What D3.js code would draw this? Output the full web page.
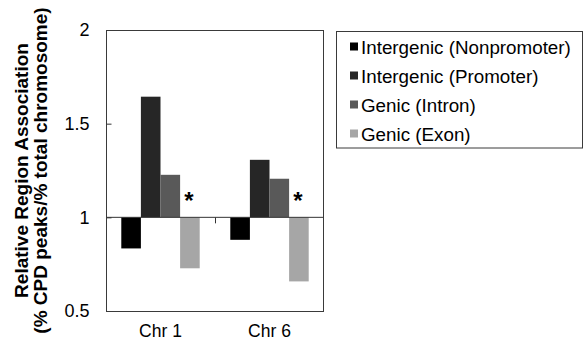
<!DOCTYPE html>
<html>
<head>
<meta charset="utf-8">
<script src="https://cdn.jsdelivr.net/npm/d3@7/dist/d3.min.js"></script>
<style>
  html, body { margin: 0; padding: 0; background: #fff; }
  svg { display: block; font-family: "Liberation Sans", Arial, sans-serif; }
</style>
</head>
<body>
<svg id="chart" width="583" height="343"></svg>
<script>
// ---- data ----
const categories = ["Chr 1", "Chr 6"];
const seriesNames = ["Intergenic (Nonpromoter)", "Intergenic (Promoter)", "Genic (Intron)", "Genic (Exon)"];
const nonpromoter = [0.834, 0.880];
const promoter = [1.644, 1.307];
const intron = [1.227, 1.206];
const exon = [0.728, 0.658];
const significant = [true, true]; // asterisk on exon bar
const yTicks = [0.5, 1, 1.5, 2];
const seriesColors = ["#000000", "#262626", "#595959", "#a6a6a6"];

const seriesValues = [nonpromoter, promoter, intron, exon];

// ---- layout ----
const svg = d3.select("#chart");
const plot = { left: 106, right: 324, top: 30, bottom: 311 };

const y = d3.scaleLinear().domain([0.5, 2]).range([plot.bottom, plot.top]);
const x0 = d3.scaleBand().domain(categories).range([plot.left, plot.right]).paddingInner(0).paddingOuter(0);
const x1 = d3.scaleBand().domain(seriesNames).range([0, x0.bandwidth()]).paddingInner(0).paddingOuter(0.78);

// bars
const barData = [];
categories.forEach((c, ci) => {
  seriesNames.forEach((s, si) => {
    barData.push({ cat: c, series: s, value: seriesValues[si][ci], color: seriesColors[si] });
  });
});

svg.append("g").selectAll("rect")
  .data(barData)
  .join("rect")
  .attr("x", d => x0(d.cat) + x1(d.series))
  .attr("width", x1.bandwidth())
  .attr("y", d => Math.min(y(d.value), y(1)))
  .attr("height", d => Math.abs(y(d.value) - y(1)))
  .attr("fill", d => d.color);

// baseline at 1
svg.append("line")
  .attr("x1", plot.left).attr("x2", plot.right)
  .attr("y1", y(1)).attr("y2", y(1))
  .attr("stroke", "#333").attr("stroke-width", 1);

// category boundary tick(s)
svg.append("g").selectAll("line")
  .data(categories.slice(1))
  .join("line")
  .attr("x1", d => x0(d) + 0.5).attr("x2", d => x0(d) + 0.5)
  .attr("y1", y(1)).attr("y2", y(1) + 6)
  .attr("stroke", "#333").attr("stroke-width", 1);

// y axis
const yAxis = d3.axisLeft(y).tickValues(yTicks).tickSize(-5).tickPadding(17).tickFormat(d => String(d));
const yg = svg.append("g").attr("transform", `translate(${plot.left + 0.5},0)`).call(yAxis);
yg.select(".domain").remove();
yg.selectAll(".tick line").attr("stroke", "#333");
yg.selectAll(".tick text").attr("font-size", "18px").attr("fill", "#000")
  .attr("font-family", "'Liberation Sans', Arial, sans-serif");

// x axis labels
const xAxis = d3.axisBottom(x0).tickSize(0).tickPadding(14);
const xg = svg.append("g").attr("transform", `translate(0,${plot.bottom})`).call(xAxis);
xg.select(".domain").remove();
xg.selectAll(".tick text").attr("font-size", "17.5px").attr("fill", "#000")
  .attr("font-family", "'Liberation Sans', Arial, sans-serif");

// plot border
svg.append("rect")
  .attr("x", plot.left + 0.5).attr("y", plot.top + 0.5)
  .attr("width", plot.right - plot.left - 1).attr("height", plot.bottom - plot.top)
  .attr("fill", "none").attr("stroke", "#3a3a3a").attr("stroke-width", 1);

// asterisks
svg.append("g").selectAll("text")
  .data(categories.filter((c, i) => significant[i]))
  .join("text")
  .attr("x", d => x0(d) + x1(seriesNames[3]) + x1.bandwidth() / 2 - 1)
  .attr("y", 209)
  .attr("text-anchor", "middle")
  .attr("font-size", "24px")
  .attr("font-weight", "bold")
  .text("*");

// y axis title
const title = svg.append("g").attr("transform", `translate(0,${(plot.top + plot.bottom) / 2})`);
title.append("text")
  .attr("transform", "translate(21,0) rotate(-90)")
  .attr("text-anchor", "middle").attr("dominant-baseline", "central")
  .attr("font-size", "19px").attr("font-weight", "bold")
  .text("Relative Region Association");
title.append("text")
  .attr("transform", "translate(40,0) rotate(-90)")
  .attr("text-anchor", "middle").attr("dominant-baseline", "central")
  .attr("font-size", "19px").attr("font-weight", "bold")
  .text("(% CPD peaks/% total chromosome)");

// legend
const legend = svg.append("g");
legend.append("rect")
  .attr("x", 336.5).attr("y", 31.5).attr("width", 246).attr("height", 116.5)
  .attr("fill", "#fff").attr("stroke", "#3a3a3a").attr("stroke-width", 1);
const items = legend.selectAll("g.item")
  .data(seriesNames)
  .join("g").attr("class", "item")
  .attr("transform", (d, i) => `translate(350,${46.5 + i * 29})`);
items.append("rect")
  .attr("x", 0).attr("y", -4).attr("width", 8).attr("height", 8)
  .attr("fill", (d, i) => seriesColors[i]);
items.append("text")
  .attr("x", 11).attr("y", 1)
  .attr("dominant-baseline", "central")
  .attr("font-size", "18.8px")
  .text(d => d);
</script>
</body>
</html>
